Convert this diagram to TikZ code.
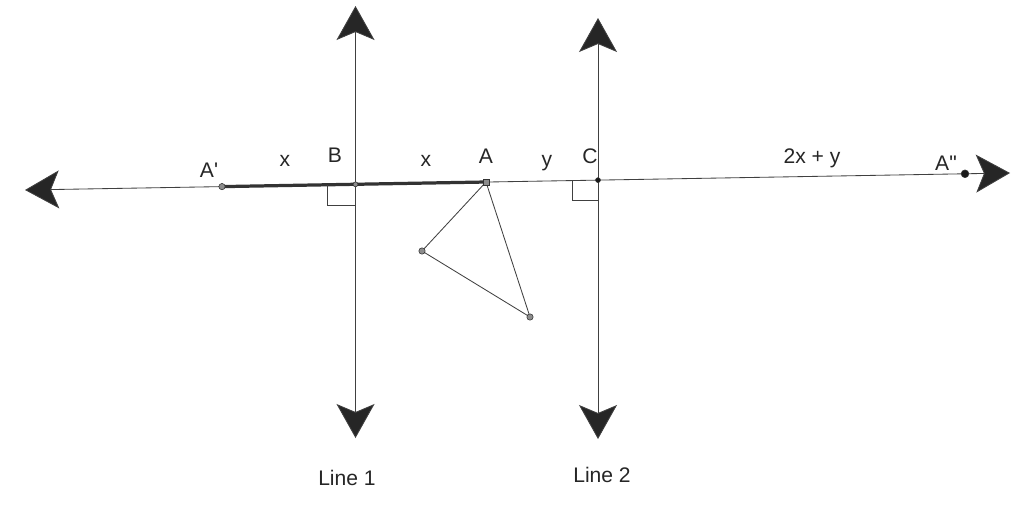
\documentclass[tikz,border=0pt]{standalone}
\usepackage{fontspec}
\setmainfont{Liberation Sans}
\newfontfamily\lblfont{Liberation Sans}
\usetikzlibrary{positioning,arrows.meta}

\begin{document}
\begin{tikzpicture}[
  x=0.025cm, y=-0.025cm,
  ln/.style={draw=black!75, line width=0.6pt},
  dbl/.style={ln, {Stealth[length=34*0.025cm, width=38*0.025cm, inset=8*0.025cm, fill=black!85]}-{Stealth[length=34*0.025cm, width=38*0.025cm, inset=8*0.025cm, fill=black!85]}},
  seg/.style={draw=black!80, line width=2.3pt},
  ra/.style={draw=black!75, line width=0.5pt},
  pt/.style={circle, draw=black!80, fill=black!45, inner sep=0pt, minimum size=4.5pt},
  lbl/.style={font=\lblfont\fontsize{15}{18}\selectfont, text=black!85, inner sep=1pt}
]
\useasboundingbox (0,0) rectangle (1011,508);

%% ═══════════════════════════════════════════════
%% main line and points on it
%% ═══════════════════════════════════════════════

\coordinate (m_left)  at (25,190);
\coordinate (m_right) at (1010,173);
\coordinate (p_ap)  at (222,186.6);
\coordinate (p_b)   at (355.5,184.3);
\coordinate (p_a)   at (486,182);
\coordinate (p_c)   at (598,180.1);
\coordinate (p_app) at (965,173.8);

\draw[dbl] (m_left) -- (m_right);
\draw[seg] (p_ap) -- (p_a);

%% ═══════════════════════════════════════════════
%% Line 1 / Line 2
%% ═══════════════════════════════════════════════

\coordinate (l1_top) at (355.5,6);
\coordinate (l1_bot) at (355.5,438);
\coordinate (l2_top) at (598,18);
\coordinate (l2_bot) at (598,439);

\draw[dbl] (l1_bot) -- (l1_top);
\draw[dbl] (l2_bot) -- (l2_top);

% right angle marks
\draw[ra] (p_b) ++(-28,0.5) -- ++(0,21) -- ++(28,0);
\draw[ra] (p_c) ++(-26,0.5) -- ++(0,20) -- ++(26,0);

%% ═══════════════════════════════════════════════
%% triangle
%% ═══════════════════════════════════════════════

\coordinate (t_b) at (422,251);
\coordinate (t_c) at (530,317);
\draw[ln] (p_a) -- (t_b) -- (t_c) -- cycle;

\node[pt] (d_ap)  at (p_ap)  {};
\node[pt, minimum size=3.5pt] (d_b) at (p_b) {};
\node[pt, rectangle] (d_a) at (p_a) {};
\node[pt, fill=black!90, minimum size=3.5pt] (d_c) at (p_c) {};
\node[pt, fill=black!90, minimum size=5.5pt] (d_app) at (p_app) {};
\node[pt] (d_tb) at (t_b) {};
\node[pt] (d_tc) at (t_c) {};

%% ── labels ───────────────────────────────────────
\node[lbl] (n_ap)  at (209,170) {A'};
\node[lbl] (n_x1)  at (285,161) {x};
\node[lbl] (n_b)   at (335,155) {B};
\node[lbl] (n_x2)  at (426,161) {x};
\node[lbl] (n_a)   at (486,156) {A};
\node[lbl] (n_y)   at (547,163) {y};
\node[lbl] (n_c)   at (590,156) {C};
\node[lbl] (n_sum) at (812,158) {2x + y};
\node[lbl] (n_app) at (946,163) {A"};
\node[lbl] (n_l1)  at (347,478) {Line 1};
\node[lbl] (n_l2)  at (602,475) {Line 2};

\end{tikzpicture}
\end{document}
